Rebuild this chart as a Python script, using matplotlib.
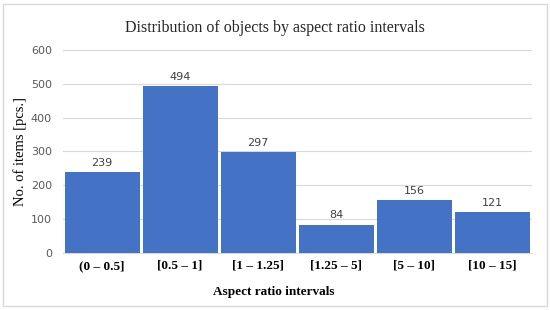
import numpy as np
import matplotlib.pyplot as plt

# data
intervals = ['(0 – 0.5]', '[0.5 – 1]', '[1 – 1.25]', '[1.25 – 5]', '[5 – 10]', '[10 – 15]']
counts = [239, 494, 297, 84, 156, 121]
yticks = [0, 100, 200, 300, 400, 500, 600]

fig = plt.figure(figsize=(5.5, 3.1), dpi=100)
ax = fig.add_axes([0.1145, 0.184, 0.852, 0.655])

x = np.arange(len(intervals))
bars = ax.bar(x, counts, width=0.96, color='#4472C4', zorder=3)
for xi, c in zip(x, counts):
    ax.text(xi, c + 12, str(c), ha='center', va='bottom', fontsize=8,
            color='#404040', family='DejaVu Sans')

ax.set_xlim(-0.5, len(intervals) - 0.5)
ax.set_ylim(0, 600)
ax.set_yticks(yticks)
ax.grid(axis='y', color='#d9d9d9', linewidth=0.8, zorder=0)
for s in ['top', 'right', 'left']:
    ax.spines[s].set_visible(False)
ax.spines['bottom'].set_color('#d9d9d9')
ax.tick_params(axis='both', length=0)
ax.tick_params(axis='y', labelsize=8, labelcolor='#595959', pad=8)
ax.tick_params(axis='x', pad=5)
ax.set_xticks(x)
ax.set_xticklabels(intervals, fontsize=9.5, fontweight='bold', family='Liberation Serif')

ax.set_xlabel('Aspect ratio intervals', fontsize=9.5, fontweight='bold',
              family='Liberation Serif')
ax.xaxis.set_label_coords(0.45, -0.165)
ax.set_ylabel('No. of items [pcs.]', fontsize=10.5, family='Liberation Serif', labelpad=3)
fig.text(0.5, 0.91, 'Distribution of objects by aspect ratio intervals', ha='center',
         va='center', fontsize=11.5, family='Liberation Serif', color='#262626')

# light frame around the chart area
fig.patches.append(plt.Rectangle((0.006, 0.012), 0.988, 0.975, transform=fig.transFigure,
                                 fill=False, edgecolor='#d9d9d9', linewidth=1))

plt.savefig('out.png', dpi=100)
